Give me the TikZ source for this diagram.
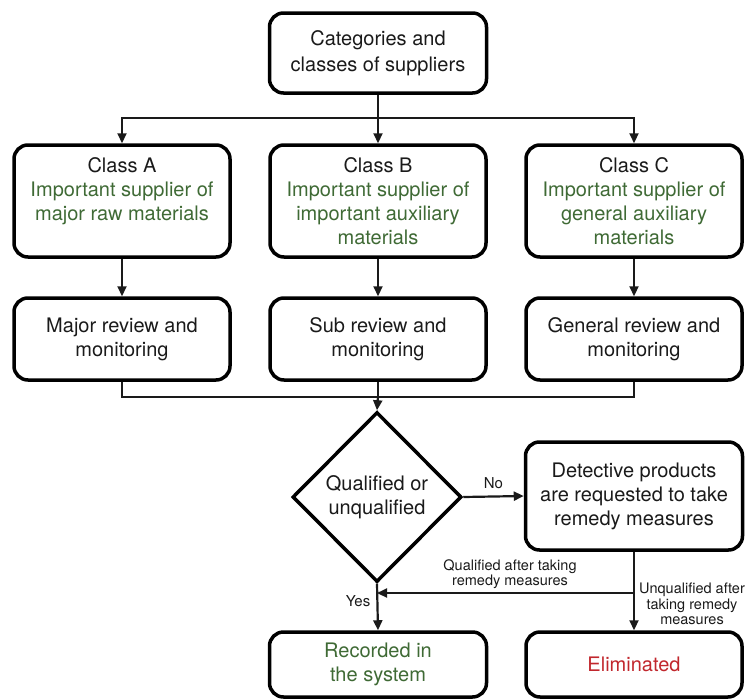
\documentclass[tikz,border=0pt]{standalone}
\usepackage{fontspec}
\setmainfont{TeX Gyre Heros}
\usetikzlibrary{arrows.meta,shapes.geometric}
\definecolor{supgreen}{HTML}{3F6A35}
\definecolor{elimred}{HTML}{C1272D}
\definecolor{txt}{HTML}{1A1A1A}
\begin{document}
\begin{tikzpicture}[x=1pt,y=-1pt,
  box/.style={draw, line width=3.5pt, rounded corners=14pt, align=center,
    font=\fontsize{20}{24}\selectfont, text=txt, inner sep=2pt,
    minimum width=216pt},
  decision/.style={draw, diamond, line width=3.5pt, align=center,
    font=\fontsize{20}{24}\selectfont, text=txt, inner sep=0pt,
    minimum width=169pt, minimum height=170pt},
  conn/.style={line width=2.2pt, draw=txt},
  arr/.style={conn, -{Triangle[length=10pt,width=9pt]}},
  lbl/.style={align=center, font=\fontsize{14.5}{15.5}\selectfont, text=txt, inner sep=0pt},
  grn/.style={text=supgreen}]
\useasboundingbox (0,0) rectangle (750,699);

\node[box, minimum width=217pt, minimum height=80pt, font=\fontsize{20}{26}\selectfont] (top) at (378,53) {Categories and\\classes of suppliers};

\node[box, minimum height=112pt] (A) at (122,201) {Class A\\\textcolor{supgreen}{Important supplier of}\\\textcolor{supgreen}{major raw materials}\\\vphantom{X}};
\node[box, minimum height=112pt] (B) at (378,201) {Class B\\\textcolor{supgreen}{Important supplier of}\\\textcolor{supgreen}{important auxiliary}\\\textcolor{supgreen}{materials}};
\node[box, minimum height=112pt] (C) at (634,201) {Class C\\\textcolor{supgreen}{Important supplier of}\\\textcolor{supgreen}{general auxiliary}\\\textcolor{supgreen}{materials}};

\node[box, minimum height=82pt] (rA) at (122,339) {Major review and\\monitoring};
\node[box, minimum height=82pt] (rB) at (378,339) {Sub review and\\monitoring};
\node[box, minimum height=82pt] (rC) at (634,339) {General review and\\monitoring};

\node[decision] (dia) at (377,497) {Qualified or\\unqualified};
\node[box, minimum width=217pt, minimum height=108pt] (det) at (634,496) {Detective products\\are requested to take\\remedy measures};

\node[box, minimum width=217pt, minimum height=65pt] (rec) at (378,664.5) {\textcolor{supgreen}{Recorded in}\\\textcolor{supgreen}{the system}};
\node[box, minimum width=216pt, minimum height=65pt] (elim) at (634,664.5) {\textcolor{elimred}{Eliminated}};

\coordinate (split) at (378,118);
\coordinate (merge) at (378,397);
\coordinate (q1) at (634,593);
\coordinate (q2) at (377,593);

\draw[conn] (top.south) -- (split);
\draw[arr] (split) -| (A.north);
\draw[arr] (split) -- (B.north);
\draw[arr] (split) -| (C.north);

\draw[arr] (A) -- (rA);
\draw[arr] (B) -- (rB);
\draw[arr] (C) -- (rC);

\draw[conn] (rA.south) |- (merge) -| (rC.south);
\draw[conn] (rB.south) -- (merge);
\draw[arr] (merge) -- (dia.north);

\draw[arr] (dia.east) -- node[lbl, above=7pt, font=\fontsize{15}{16}\selectfont] (no) {No} (det.west);
\draw[arr] (dia.south) -- (rec.north);
\draw[arr] (det.south) -- (elim.north);
\draw[arr] (q1) -- (q2);

\node[lbl, font=\fontsize{15}{16}\selectfont] (yes) at (358,601) {Yes};
\node[lbl] (qlab) at (510,574) {Qualified after taking\\remedy measures};
\node[lbl] (ulab) at (692,604) {Unqualified after\\taking remedy\\measures};
\end{tikzpicture}
\end{document}
